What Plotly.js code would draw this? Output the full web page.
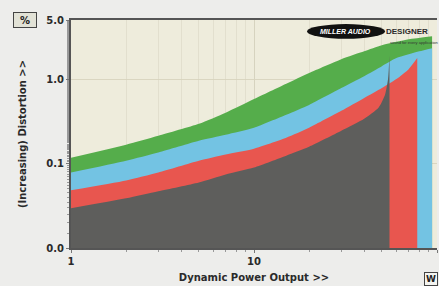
<!DOCTYPE html>
<html>
<head>
<meta charset="utf-8">
<script src="https://cdn.plot.ly/plotly-3.0.1.min.js"></script>
<style>
html,body{margin:0;padding:0;background:#ededeb;}
#chart{width:439px;height:286px;}
</style>
</head>
<body>
<div id="chart"></div>
<script>
// Power output (W)
const greenX = [1, 2, 3, 5, 7, 10, 15, 20, 30, 40, 50, 70, 94];
const greenY = [0.117, 0.167, 0.213, 0.295, 0.40, 0.58, 0.88, 1.18, 1.72, 2.13, 2.51, 2.95, 3.21];

const blueX = [1, 2, 3, 5, 7, 10, 15, 20, 30, 40, 50, 60, 80, 94];
const blueY = [0.0784, 0.108, 0.135, 0.186, 0.219, 0.265, 0.377, 0.494, 0.783, 1.08, 1.42, 1.77, 2.13, 2.32];

const redX = [1, 2, 3, 5, 7, 10, 15, 20, 30, 40, 50, 60, 70, 78];
const redY = [0.0481, 0.0631, 0.0784, 0.108, 0.128, 0.150, 0.202, 0.265, 0.42, 0.597, 0.783, 1.0, 1.31, 1.77];

const grayX = [1, 2, 3, 5, 7, 10, 15, 20, 30, 40, 48, 52, 54, 55];
const grayY = [0.0295, 0.0387, 0.0469, 0.0598, 0.0743, 0.0898, 0.124, 0.158, 0.244, 0.338, 0.46, 0.65, 1.0, 1.9];

const yTickVals = [0.01, 0.1, 1, 5];
const yTickText = ['0.0', '0.1', '1.0', '5.0'];
const xTickVals = [1, 10, 100];
const xTickText = ['1', '10', '100'];
const xMinorVals = [2, 3, 4, 5, 6, 7, 8, 9, 20, 30, 40, 50, 60, 70, 80, 90];

function area(x, y, color) {
  return {x: x, y: y, type: 'scatter', mode: 'lines', fill: 'tozeroy',
    fillcolor: color, line: {width: 0, color: color, shape: 'spline', smoothing: 0.6},
    hoverinfo: 'skip', showlegend: false};
}

const data = [
  area(greenX, greenY, '#55ad4b'),
  area(blueX, blueY, '#73c3e3'),
  area(redX, redY, '#e8564f'),
  area(grayX, grayY, '#5e5e5c')
];

const FAM = 'DejaVu Sans, Verdana, sans-serif';
const bold = {family: FAM, size: 10, color: '#2a2a2a', weight: 'bold'};

const layout = {
  width: 439, height: 286,
  margin: {l: 71, r: 2, t: 20, b: 38},
  paper_bgcolor: '#ededeb',
  plot_bgcolor: '#eeecdc',
  showlegend: false,
  xaxis: {
    type: 'log', range: [0, 2],
    tickvals: xTickVals, ticktext: xTickText,
    ticks: 'outside', ticklen: 3, tickcolor: '#777',
    tickfont: bold,
    showgrid: true, gridcolor: 'rgba(208,205,184,0.8)', gridwidth: 1,
    minor: {tickvals: xMinorVals, showgrid: true, gridcolor: 'rgba(222,220,202,0.8)', ticks: 'outside', ticklen: 2, tickcolor: '#999'},
    showline: true, linecolor: '#555', linewidth: 2, mirror: true,
    zeroline: false,
    title: {text: 'Dynamic Power Output >>', font: bold, standoff: 8}
  },
  yaxis: {
    type: 'log', range: [-2, Math.log10(5)],
    tickvals: yTickVals, ticktext: yTickText,
    ticks: 'outside', ticklen: 3, tickcolor: '#777',
    tickfont: bold,
    showgrid: true, gridcolor: 'rgba(215,212,190,0.9)',
    minor: {ticks: 'outside', ticklen: 2, tickcolor: '#999', showgrid: false},
    showline: true, linecolor: '#555', linewidth: 2,
    zeroline: false,
    title: {text: '(Increasing) Distortion >>', font: bold, standoff: 18}
  },
  shapes: [
    {type: 'circle', xref: 'paper', yref: 'paper', x0: 0.645, x1: 0.858, y0: 0.918, y1: 0.982,
     fillcolor: '#111', line: {width: 0}}
  ],
  annotations: [
    {xref: 'paper', yref: 'paper', x: -0.126, y: 1.0, text: '%', showarrow: false,
     font: {family: FAM, size: 10, color: '#222', weight: 'bold'},
     width: 20, height: 12,
     bordercolor: '#444', borderwidth: 1, bgcolor: '#e2e2d6', borderpad: 1, xanchor: 'center', yanchor: 'middle'},
    {xref: 'paper', yref: 'paper', x: 0.751, y: 0.951, text: '<i>MILLER AUDIO</i>', showarrow: false,
     font: {family: 'Liberation Sans, Arial, sans-serif', size: 7, color: '#fff', weight: 'bold'},
     xanchor: 'center', yanchor: 'middle'},
    {xref: 'paper', yref: 'paper', x: 0.856, y: 0.951, text: 'DESIGNER', showarrow: false,
     font: {family: 'Liberation Sans, Arial, sans-serif', size: 8, color: '#2a2a2a', weight: 'bold'},
     xanchor: 'left', yanchor: 'middle'},
    {xref: 'paper', yref: 'paper', x: 0.865, y: 0.903, text: 'sound for every application', showarrow: false,
     font: {family: 'Liberation Sans, Arial, sans-serif', size: 4, color: '#333'},
     xanchor: 'left', yanchor: 'middle'},
    {xref: 'paper', yref: 'paper', x: 1.003, y: -0.135, text: 'W', showarrow: false,
     font: {family: FAM, size: 9, color: '#222', weight: 'bold'},
     bordercolor: '#444', borderwidth: 1, bgcolor: '#f4f4f0', borderpad: 1, xanchor: 'right', yanchor: 'middle'}
  ]
};

Plotly.newPlot('chart', data, layout, {displayModeBar: false, staticPlot: true});
</script>
</body>
</html>
